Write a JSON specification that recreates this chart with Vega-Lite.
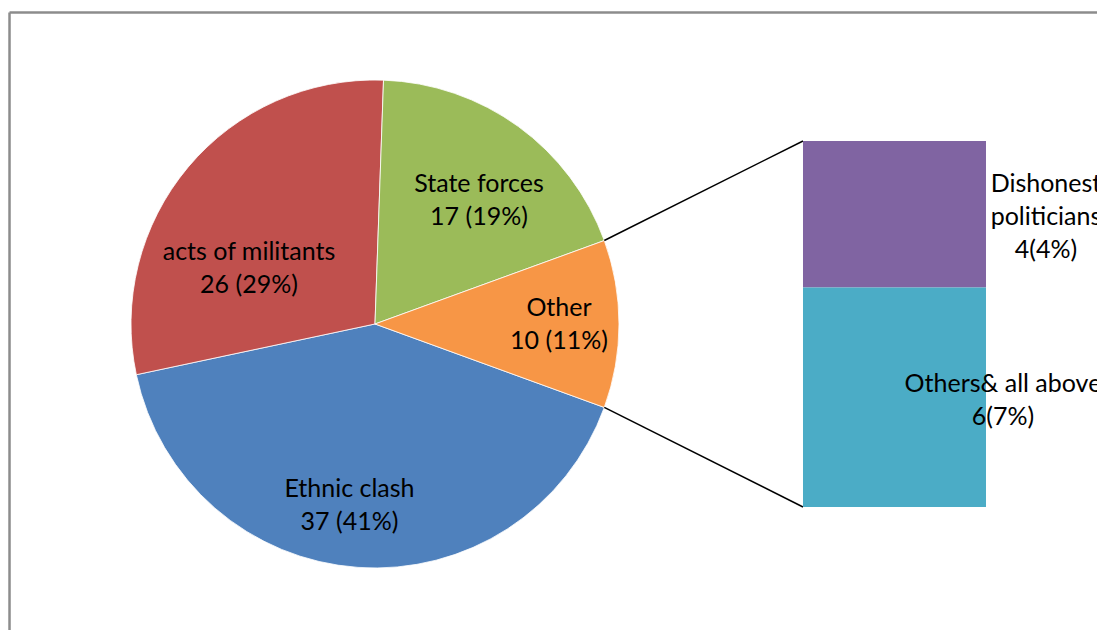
{
  "$schema": "https://vega.github.io/schema/vega-lite/v6.json",
  "width": 1097,
  "height": 630,
  "autosize": {"type": "none"},
  "padding": 0,
  "background": "white",
  "config": {"view": {"stroke": null}, "text": {"font": "Lato", "fontSize": 25, "color": "black"}},
  "datasets": {
    "pie": [
      {"cause": "Ethnic clash", "count": 37, "label": "Ethnic clash\n37 (41%)"},
      {"cause": "acts of militants", "count": 26, "label": "acts of militants\n26 (29%)"},
      {"cause": "State forces", "count": 17, "label": "State forces\n17 (19%)"},
      {"cause": "Other", "count": 10, "label": "Other\n10 (11%)"}
    ],
    "bar": [
      {"cause": "Dishonest politicians", "count": 4, "label": "Dishonest\npoliticians\n4(4%)"},
      {"cause": "Others& all above", "count": 6, "label": "Others& all above\n6(7%)"}
    ],
    "one": [{}]
  },
  "layer": [
    {
      "data": {"name": "one"},
      "mark": {"type": "rule", "color": "#8c8c8c", "strokeWidth": 2.5},
      "encoding": {
        "x": {"datum": 0.014, "type": "quantitative", "axis": null, "scale": {"domain": [-0.246, 29.727], "nice": false, "zero": false}},
        "y": {"datum": 13.51, "type": "quantitative", "axis": null, "scale": {"domain": [-3.361, 13.852], "nice": false, "zero": false}},
        "y2": {"datum": -3.361}
      }
    },
    {
      "data": {"name": "one"},
      "mark": {"type": "rule", "color": "#8c8c8c", "strokeWidth": 2.5},
      "encoding": {
        "x": {"datum": 0.014, "type": "quantitative", "axis": null},
        "x2": {"datum": 29.727},
        "y": {"datum": 13.51, "type": "quantitative", "axis": null}
      }
    },
    {
      "data": {"name": "pie"},
      "mark": {"type": "arc", "radius": 244, "stroke": "white", "strokeWidth": 0.8},
      "encoding": {
        "x": {"datum": 10, "type": "quantitative", "axis": null},
        "y": {"datum": 5, "type": "quantitative", "axis": null},
        "theta": {"field": "count", "type": "quantitative", "stack": true, "scale": {"range": [1.9199, 8.2031]}},
        "order": {"field": "count", "type": "quantitative", "sort": "descending"},
        "color": {
          "field": "cause", "type": "nominal", "legend": null,
          "scale": {
            "domain": ["Ethnic clash", "acts of militants", "State forces", "Other", "Dishonest politicians", "Others& all above"],
            "range": ["#4F81BD", "#C0504D", "#9BBB59", "#F79646", "#8064A2", "#4BACC6"]
          }
        }
      }
    },
    {
      "data": {"name": "one"},
      "mark": {"type": "rule", "color": "black", "strokeWidth": 1.5},
      "encoding": {
        "x": {"datum": 16.265, "type": "quantitative", "axis": null},
        "y": {"datum": 7.28, "type": "quantitative", "axis": null},
        "x2": {"datum": 21.694},
        "y2": {"datum": 10}
      }
    },
    {
      "data": {"name": "one"},
      "mark": {"type": "rule", "color": "black", "strokeWidth": 1.5},
      "encoding": {
        "x": {"datum": 16.265, "type": "quantitative", "axis": null},
        "y": {"datum": 2.72, "type": "quantitative", "axis": null},
        "x2": {"datum": 21.694},
        "y2": {"datum": 0}
      }
    },
    {
      "data": {"name": "bar"},
      "transform": [
        {"stack": "count", "groupby": [], "sort": [{"field": "count", "order": "descending"}], "as": ["y0", "y1"]}
      ],
      "mark": {"type": "bar"},
      "encoding": {
        "x": {"datum": 21.694, "type": "quantitative", "axis": null},
        "x2": {"datum": 26.694},
        "y": {"field": "y0", "type": "quantitative", "axis": null},
        "y2": {"field": "y1"},
        "color": {"field": "cause", "type": "nominal", "legend": null}
      }
    },
    {
      "data": {"name": "pie"},
      "transform": [{"filter": "datum.cause === 'State forces'"}],
      "mark": {"type": "text", "lineBreak": "\n", "lineHeight": 33, "align": "center", "baseline": "middle", "dy": -16.5},
      "encoding": {
        "x": {"datum": 12.841, "type": "quantitative", "axis": null},
        "y": {"datum": 8.374, "type": "quantitative", "axis": null},
        "text": {"field": "label"}
      }
    },
    {
      "data": {"name": "pie"},
      "transform": [{"filter": "datum.cause === 'acts of militants'"}],
      "mark": {"type": "text", "lineBreak": "\n", "lineHeight": 33, "align": "center", "baseline": "middle", "dy": -16.5},
      "encoding": {
        "x": {"datum": 6.557, "type": "quantitative", "axis": null},
        "y": {"datum": 6.503, "type": "quantitative", "axis": null},
        "text": {"field": "label"}
      }
    },
    {
      "data": {"name": "pie"},
      "transform": [{"filter": "datum.cause === 'Other'"}],
      "mark": {"type": "text", "lineBreak": "\n", "lineHeight": 33, "align": "center", "baseline": "middle", "dy": -16.5},
      "encoding": {
        "x": {"datum": 15.027, "type": "quantitative", "axis": null},
        "y": {"datum": 4.986, "type": "quantitative", "axis": null},
        "text": {"field": "label"}
      }
    },
    {
      "data": {"name": "pie"},
      "transform": [{"filter": "datum.cause === 'Ethnic clash'"}],
      "mark": {"type": "text", "lineBreak": "\n", "lineHeight": 33, "align": "center", "baseline": "middle", "dy": -16.5},
      "encoding": {
        "x": {"datum": 9.303, "type": "quantitative", "axis": null},
        "y": {"datum": 0.041, "type": "quantitative", "axis": null},
        "text": {"field": "label"}
      }
    },
    {
      "data": {"name": "bar"},
      "transform": [{"filter": "datum.cause === 'Dishonest politicians'"}],
      "mark": {"type": "text", "lineBreak": "\n", "lineHeight": 33, "align": "center", "baseline": "middle", "dy": -33},
      "encoding": {
        "x": {"datum": 28.333, "type": "quantitative", "axis": null},
        "y": {"datum": 7.923, "type": "quantitative", "axis": null},
        "text": {"field": "label"}
      }
    },
    {
      "data": {"name": "bar"},
      "transform": [{"filter": "datum.cause === 'Others& all above'"}],
      "mark": {"type": "text", "lineBreak": "\n", "lineHeight": 33, "align": "center", "baseline": "middle", "dy": -16.5},
      "encoding": {
        "x": {"datum": 27.158, "type": "quantitative", "axis": null},
        "y": {"datum": 2.91, "type": "quantitative", "axis": null},
        "text": {"field": "label"}
      }
    }
  ]
}
